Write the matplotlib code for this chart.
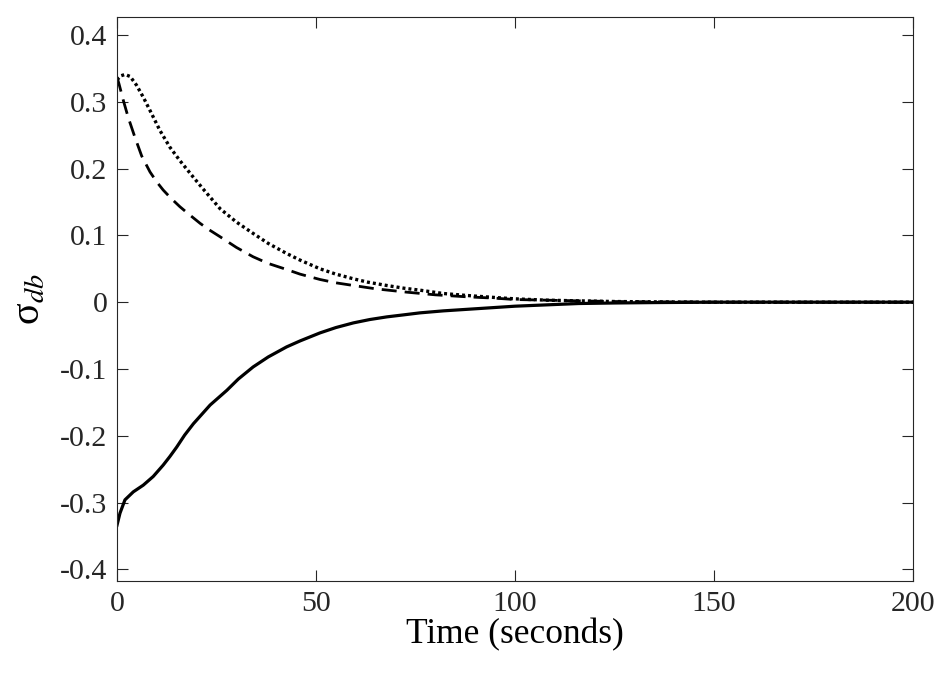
import matplotlib
matplotlib.use("Agg")
from matplotlib import pyplot as plt

# Values
t_dash = [0, 0.5, 1.6, 2.8, 4.5, 6.2, 8.3, 10, 11.6, 13.5, 15.8, 18, 20.9, 23,
          25.9, 30, 34.2, 38, 42.6, 46, 51, 55, 59.4, 65, 72.8, 80, 88, 95, 100,
          108, 116, 125, 135, 150, 170, 200]
sigma_dash = [0.337, 0.327, 0.302, 0.277, 0.247, 0.219, 0.195, 0.180, 0.168, 0.156,
              0.143, 0.132, 0.118, 0.109, 0.098, 0.082, 0.068, 0.058, 0.049, 0.042,
              0.034, 0.029, 0.025, 0.020, 0.015, 0.011, 0.008, 0.006, 0.004, 0.003,
              0.002, 0.001, 0.0005, 0.0, 0.0, 0.0]

t_dot = [0, 1, 2, 3.3, 4.9, 6.6, 8.3, 10.8, 13.3, 15.8, 19.2, 22, 25.9, 30, 34.2,
         38, 42.6, 46, 51, 55, 59.4, 63, 67.8, 72, 76.1, 82, 88, 95, 100, 108, 116,
         125, 135, 150, 170, 200]
sigma_dot = [0.333, 0.339, 0.341, 0.338, 0.325, 0.307, 0.287, 0.257, 0.232, 0.212,
             0.187, 0.167, 0.140, 0.120, 0.103, 0.088, 0.073, 0.063, 0.050, 0.042,
             0.035, 0.030, 0.025, 0.021, 0.018, 0.013, 0.010, 0.007, 0.005, 0.003,
             0.002, 0.001, 0.0005, 0.0, 0.0, 0.0]

t_solid = [0, 0.75, 2, 4.1, 6.6, 9.1, 11.6, 13.3, 15, 17, 19.2, 21.3, 23.4, 25.5,
           27.6, 30.5, 34.2, 38, 42.6, 46, 51, 55, 59.4, 63.5, 67.8, 72, 76.1, 82,
           91, 100, 108, 116, 125, 135, 150, 170, 200]
sigma_solid = [-0.334, -0.316, -0.296, -0.284, -0.274, -0.261, -0.244, -0.231,
               -0.217, -0.199, -0.182, -0.168, -0.154, -0.143, -0.132, -0.115,
               -0.097, -0.082, -0.067, -0.058, -0.046, -0.038, -0.031, -0.026,
               -0.022, -0.019, -0.016, -0.013, -0.0095, -0.006, -0.004, -0.002,
               -0.0012, -0.0006, 0.0, 0.0, 0.0]

x_ticks = [0, 50, 100, 150, 200]
y_ticks = [-0.4, -0.3, -0.2, -0.1, 0, 0.1, 0.2, 0.3, 0.4]
y_tick_labels = ["-0.4", "-0.3", "-0.2", "-0.1", "0", "0.1", "0.2", "0.3", "0.4"]

# Times-like look, MATLAB style
plt.rcParams["font.family"] = ["Liberation Serif", "DejaVu Serif"]
plt.rcParams["mathtext.fontset"] = "stix"

fig = plt.figure(figsize=(9.45, 6.73), dpi=100)
ax = fig.add_axes([0.1238, 0.1367, 0.8423, 0.838])

ax.plot(t_solid, sigma_solid, color="black", linewidth=2.3)
ax.plot(t_dash, sigma_dash, color="black", linewidth=2.0, dashes=(5.4, 2.9))
ax.plot(t_dot, sigma_dot, color="black", linewidth=2.4, dashes=(0.9, 0.9))

ax.set_xlim(0, 200)
ax.set_ylim(-0.4175, 0.427)
ax.set_xticks(x_ticks)
ax.set_yticks(y_ticks)
ax.set_yticklabels(y_tick_labels)

ax.tick_params(direction="in", length=8, width=0.8, top=True, right=True,
               labelsize=21.5, colors="#262626", pad=7)
for spine in ax.spines.values():
    spine.set_color("#262626")
    spine.set_linewidth(0.8)

ax.set_xlabel("Time (seconds)", fontsize=25.5, color="black", labelpad=1)
ax.set_ylabel("σ$_{db}$", fontsize=29, color="black", labelpad=8)

plt.savefig("out.png", dpi=100)
